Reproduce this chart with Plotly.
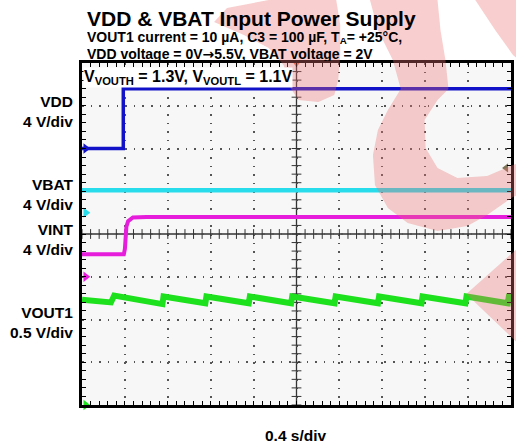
import numpy as np
import plotly.graph_objects as go

# ---------------- data read from the scope capture ----------------
channel_names = ["VDD", "VBAT", "VINT", "VOUT1"]
channel_scale_v_per_div = [4.0, 4.0, 4.0, 0.5]
channel_ground_div = [2.0, 0.5, -1.0, -4.0]      # ground marker position (divisions from centre)
channel_labels = ["VDD<br>4 V/div", "VBAT<br>4 V/div", "VINT<br>4 V/div", "VOUT1<br>0.5 V/div"]

vdd_t = [0.0, 0.385, 0.385, 4.0]
vdd_v = [0.0, 0.0, 5.6, 5.6]

vbat_t = [0.0, 4.0]
vbat_v = [2.1, 2.1]

vint_t = [0.0, 0.39, 0.40, 0.414, 0.43, 0.475, 0.60, 4.0]
vint_v = [2.1, 2.1, 2.6, 4.7, 5.2, 5.55, 5.6, 5.6]

vout_t = [0.00, 0.27, 0.30, 0.75, 0.76, 1.15, 1.16, 1.555, 1.565, 1.95, 1.96,
          2.355, 2.365, 2.76, 2.77, 3.165, 3.175, 3.575, 3.585, 3.97, 3.98, 4.00]
vout_v = [1.23, 1.20, 1.28, 1.18, 1.27, 1.19, 1.27, 1.19, 1.27, 1.19, 1.27,
          1.19, 1.27, 1.19, 1.27, 1.19, 1.27, 1.19, 1.27, 1.19, 1.27, 1.27]

time_per_div = 0.4
n_xdiv, n_ydiv = 10, 8

# ---------------- layout geometry / styles ----------------
W, H = 516, 447
L, R, T, B = 82, 2, 63, 42
PW, PH = W - L - R, H - T - B
colors = ["#1212c8", "#28dceb", "#e61edc", "#1ee11e"]
widths = [3.5, 4.5, 4, 6]
FONT = "Liberation Sans, Arial, Helvetica, sans-serif"


def px_x(px):
    return (px - L) / PW


def px_y(py):
    return (H - B - py) / PH


series = [(vdd_t, vdd_v), (vbat_t, vbat_v), (vint_t, vint_v), (vout_t, vout_v)]
xmax = time_per_div * n_xdiv

fig = go.Figure()

# centre cross tick marks
minor_x = np.arange(0, xmax + 1e-9, time_per_div / 5)
minor_y = np.arange(-n_ydiv / 2, n_ydiv / 2 + 1e-9, 0.2)
fig.add_trace(go.Scatter(x=minor_x, y=[0] * len(minor_x), mode="markers", hoverinfo="skip",
                         marker=dict(symbol="line-ns", size=7, line=dict(width=1, color="#333")),
                         showlegend=False))
fig.add_trace(go.Scatter(x=[xmax / 2] * len(minor_y), y=minor_y, mode="markers", hoverinfo="skip",
                         marker=dict(symbol="line-ew", size=7, line=dict(width=1, color="#333")),
                         showlegend=False))

for i, (name, (t, v)) in enumerate(zip(channel_names, series)):
    ax = "y" + str(i + 2)
    fig.add_trace(go.Scatter(x=t, y=v, mode="lines", name=name, yaxis=ax,
                             line=dict(color=colors[i], width=widths[i]), showlegend=False))
    # ground reference marker on the left edge
    fig.add_trace(go.Scatter(x=[0.035], y=[0], mode="markers", yaxis=ax, cliponaxis=False,
                             marker=dict(symbol="triangle-right", size=9, color=colors[i]),
                             showlegend=False, hoverinfo="skip"))

# trigger position and trigger level markers
fig.add_trace(go.Scatter(x=[xmax / 2], y=[n_ydiv / 2], mode="markers", cliponaxis=False,
                         marker=dict(symbol="triangle-down", size=8, color="#f06a4a"),
                         showlegend=False, hoverinfo="skip"))
fig.add_trace(go.Scatter(x=[3.954], y=[1.544], mode="markers", cliponaxis=False,
                         marker=dict(symbol="triangle-left", size=8, color="#7d7456"),
                         showlegend=False, hoverinfo="skip"))

axis_common = dict(showticklabels=False, zeroline=False, showline=True, linewidth=2.5,
                   linecolor="black", mirror="ticks", ticks="inside", ticklen=4,
                   tickwidth=1, tickcolor="black", showgrid=True, gridcolor="#555",
                   gridwidth=1.5, fixedrange=True)

layout = dict(
    width=W, height=H, autosize=False,
    margin=dict(l=L, r=R, t=T, b=B, pad=0),
    paper_bgcolor="white", plot_bgcolor="#f7f7f7",
    font=dict(family=FONT, color="black"),
    xaxis=dict(range=[0, xmax], dtick=time_per_div, tick0=0,
               griddash="1.5px,7.05px",
               minor=dict(dtick=time_per_div / 5, ticks="inside", ticklen=4,
                          tickcolor="black", showgrid=False),
               **axis_common),
    yaxis=dict(range=[-n_ydiv / 2, n_ydiv / 2], dtick=1, tick0=0,
               griddash="1.5px,7.14px",
               minor=dict(dtick=0.2, ticks="inside", ticklen=4,
                          tickcolor="black", showgrid=False),
               **axis_common),
)
for i in range(4):
    s, g = channel_scale_v_per_div[i], channel_ground_div[i]
    layout["yaxis" + str(i + 2)] = dict(overlaying="y", visible=False, fixedrange=True,
                                        range=[(-n_ydiv / 2 - g) * s, (n_ydiv / 2 - g) * s])
fig.update_layout(**layout)

# centre lines
fig.add_shape(type="line", xref="x", yref="paper", x0=xmax / 2, x1=xmax / 2, y0=0, y1=1,
              line=dict(color="#333", width=1.3), layer="between")
fig.add_shape(type="line", xref="paper", yref="y", x0=0, x1=1, y0=0, y1=0,
              line=dict(color="#333", width=1.3), layer="between")

# text
def ann(text, px, py, size, xanchor="left", bg=None, align="left", height=None):
    fig.add_annotation(text=text, xref="paper", yref="paper", x=px_x(px), y=px_y(py),
                       xanchor=xanchor, yanchor="middle", showarrow=False, align=align,
                       font=dict(size=size, family=FONT, color="black"),
                       bgcolor=bg, borderpad=0, height=height)

ann("<b>VDD &amp; VBAT Input Power Supply</b>", 86, 18, 21)
ann("<b>VOUT1 current = 10 µA, C3 = 100 µF, T<sub>A</sub>= +25°C,</b>", 86, 38, 14, height=15)
ann("<b>VDD voltage = 0V<span style=\"font-family:'DejaVu Sans'\">→</span>5.5V, "
    "VBAT voltage = 2V</b>", 86, 53, 14, height=15)
ann("<b>V<sub>VOUTH</sub> = 1.3V, V<sub>VOUTL</sub> = 1.1V</b>", 83, 77, 16, bg="white")
label_centres = [111, 194, 239.5, 322]
for lab, cy in zip(channel_labels, label_centres):
    ann("<b>" + lab + "</b>", 74, cy, 15.5, xanchor="right", align="right")
ann("<b>%.1f s/div</b>" % time_per_div, 297.5, 435, 15.5, xanchor="center")

# watermark overlay
def px_path(points):
    s = ""
    for k, (px, py) in enumerate(points):
        s += ("M" if k == 0 else "L") + "%.4f,%.4f" % (px_x(px), px_y(py))
    return s + "Z"

wm = dict(type="path", xref="paper", yref="paper", layer="above",
          fillcolor="rgba(235,110,110,0.34)", line=dict(width=0))
left_stroke = [(270, 0), (338, 0), (342, 25), (342, 55), (340, 80), (336, 95), (320, 102),
               (300, 100), (292, 88), (285, 65), (270, 48), (245, 35), (215, 22), (228, 8)]
u_shape = [(372, 0), (380, 30), (395, 60), (403, 89), (390, 110), (380, 130), (375, 155),
           (377, 185), (390, 208), (410, 223), (440, 231), (470, 226), (490, 215), (516, 197),
           (560, 180), (560, 0), (478, 0), (498, 30), (516, 55), (560, 90), (560, 150),
           (516, 165), (490, 176), (460, 178), (440, 168), (428, 148), (427, 120), (440, 100),
           (451, 89), (448, 60), (443, 30), (440, 0)]
triangle = [(469, 294), (530, 240), (530, 352)]
for pts in (left_stroke, u_shape, triangle):
    fig.add_shape(path=px_path(pts), **wm)

fig.write_html("out.html", config={"displayModeBar": False},
               post_script="document.body.style.margin='0';")
